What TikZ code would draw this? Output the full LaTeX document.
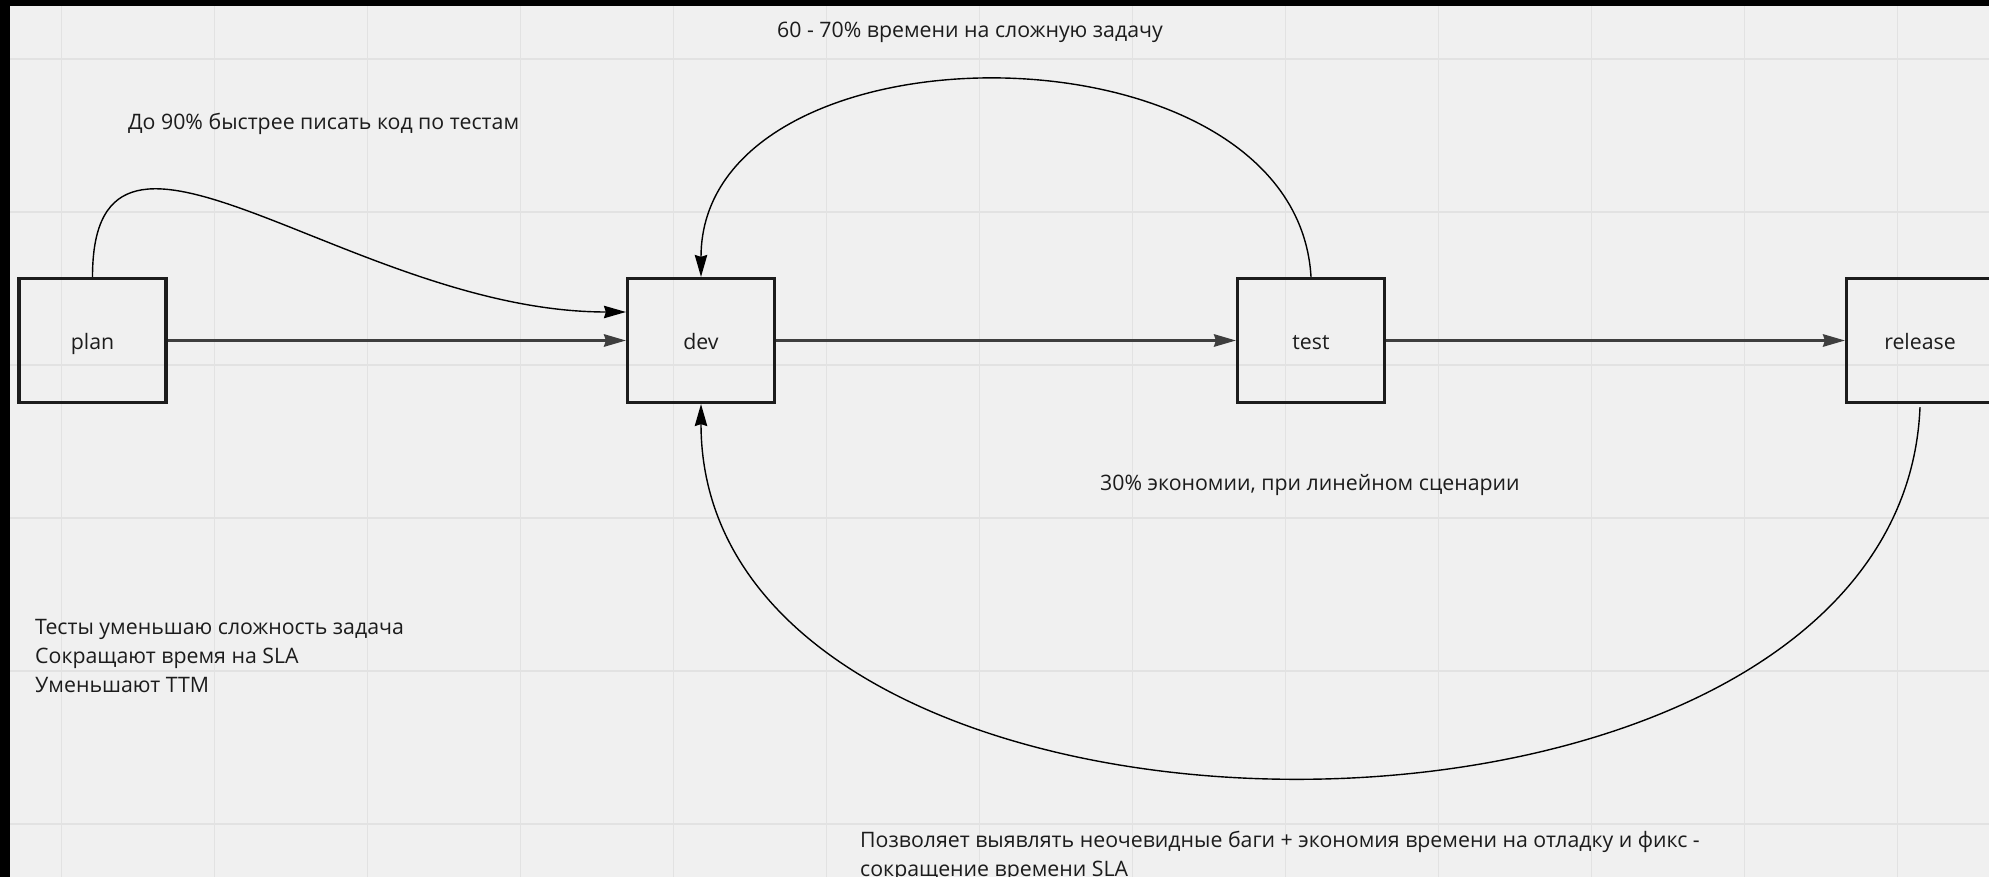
\documentclass[tikz,border=0pt]{standalone}
\usepackage{fontspec}
\setmainfont{Open Sans}
\usetikzlibrary{arrows.meta}
\definecolor{canvas}{RGB}{240,240,240}
\definecolor{gridc}{RGB}{226,226,226}
\definecolor{ink}{RGB}{28,28,28}
\tikzset{
  tip/.tip={Stealth[length=22pt,width=12.5pt,inset=2pt]},
  stage/.style={draw=ink, line width=3.2pt, minimum width=147pt, minimum height=124pt,
    inner sep=0pt, text height=20pt, text depth=2pt,
    font=\fontsize{21.3}{29}\selectfont, text=ink},
  flow/.style={draw=ink!85, line width=2.2pt, -tip},
  loop/.style={draw=black, line width=1.4pt, -tip},
  note/.style={font=\fontsize{21.3}{29}\selectfont, text=ink, inner sep=0pt,
    anchor=base west, align=left}
}
\begin{document}
\begin{tikzpicture}[x=1pt, y=-1pt]
  % canvas, grid and frame
  \fill[canvas] (0,0) rectangle (1989,877);
  \useasboundingbox (0,0) rectangle (1989,877);
  \foreach \gx in {61.5,214.5,...,1990} \draw[gridc, line width=1.8pt] (\gx,0) -- (\gx,877);
  \foreach \gy in {59,212,...,880} \draw[gridc, line width=1.8pt] (0,\gy) -- (1989,\gy);
  \fill[black] (0,0) rectangle (10,877);
  \fill[black] (0,0) rectangle (1989,6);

  % stages
  \node[stage] (plan) at (92.5,340.5) {plan};
  \node[stage] (dev) at (701,340.5) {dev};
  \node[stage] (test) at (1311,340.5) {test};
  \node[stage] (release) at (1920,340.5) {release};

  % straight flow
  \draw[flow] (plan.east) -- (dev.west);
  \draw[flow] (dev.east) -- (test.west);
  \draw[flow] (test.east) -- (release.west);

  % curved connectors
  \coordinate (devin) at ([yshift=28.5pt]dev.west);
  \draw[loop] (plan.north) .. controls +(0,-217) and +(-275,0) .. (devin);
  \draw[loop] (test.north) .. controls +(-15,-262) and +(0,-262) .. (dev.north);
  \draw[loop] ([yshift=-3pt]release.south) .. controls +(-20,495) and +(0,495) .. (dev.south);

  % notes (multi-line notes sit on the baseline of their last line)
  \node[note] (n1) at (777,37.5) {60 - 70\% времени на сложную задачу};
  \node[note] (n2) at (128,130) {До 90\% быстрее писать код по тестам};
  \node[note] (n3) at (1100,490) {30\% экономии, при линейном сценарии};
  \node[note] (n4) at (35,692)
    {Тесты уменьшаю сложность задача\\Сокращают время на SLA\\Уменьшают TTM};
  \node[note] (n5) at (860,876)
    {Позволяет выявлять неочевидные баги + экономия времени на отладку и фикс -\\сокращение времени SLA};
\end{tikzpicture}
\end{document}
